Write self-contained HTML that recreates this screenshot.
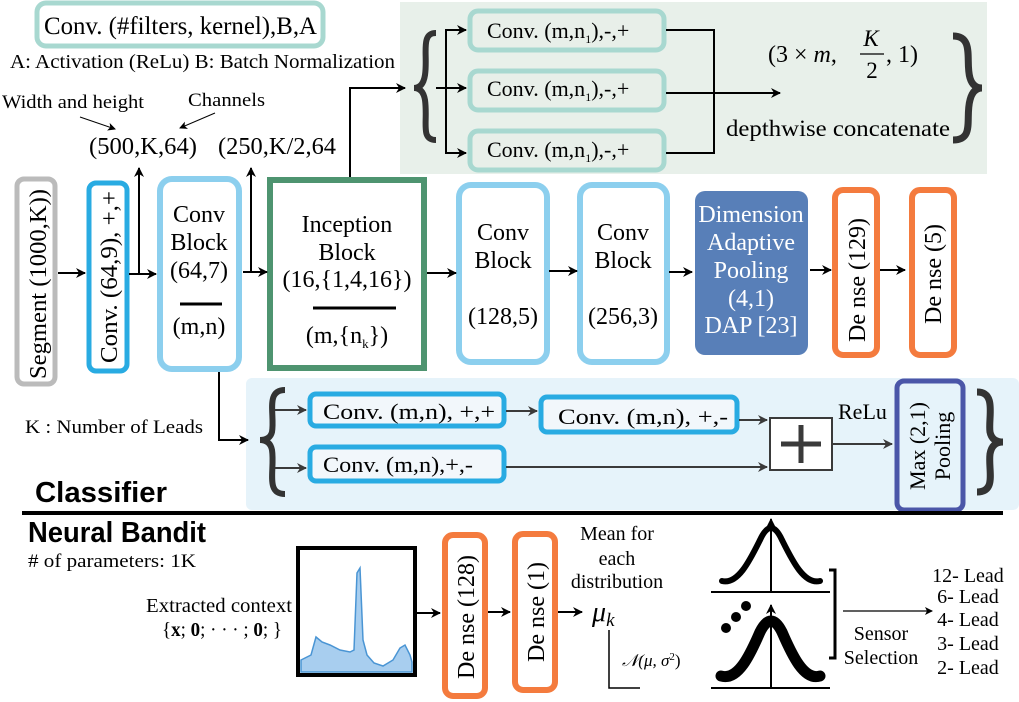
<!DOCTYPE html>
<html><head><meta charset="utf-8"><style>
body{margin:0;background:#fff;}
svg{display:block;font-family:"Liberation Serif",serif;}
</style></head><body>
<svg width="1019" height="702" viewBox="0 0 1019 702" xmlns="http://www.w3.org/2000/svg">
<defs>
<marker id="ah" markerWidth="10" markerHeight="10" refX="9" refY="5" orient="auto" markerUnits="userSpaceOnUse"><path d="M0,0 L10,5 L0,10 L3,5 z" fill="#000"/></marker>
<marker id="as" markerWidth="8" markerHeight="8" refX="7" refY="4" orient="auto" markerUnits="userSpaceOnUse"><path d="M0,0 L8,4 L0,8 L2,4 z" fill="#000"/></marker>
<marker id="ag" markerWidth="10" markerHeight="10" refX="9" refY="5" orient="auto" markerUnits="userSpaceOnUse"><path d="M0,0 L10,5 L0,10 L3,5 z" fill="#3a3a3a"/></marker>
</defs>

<!-- legend -->
<rect x="37" y="3" width="286" height="43" rx="9" fill="#fff" stroke="#a8d8d0" stroke-width="5"/>
<text x="44" y="34" font-size="25" textLength="273" lengthAdjust="spacingAndGlyphs">Conv. (#filters, kernel),B,A</text>
<text x="10" y="68" font-size="20" textLength="385" lengthAdjust="spacingAndGlyphs">A: Activation (ReLu)  B: Batch Normalization</text>
<text x="2" y="108" font-size="19" textLength="142" lengthAdjust="spacingAndGlyphs">Width and height</text>
<text x="188" y="106" font-size="19" textLength="77" lengthAdjust="spacingAndGlyphs">Channels</text>
<line x1="80" y1="117" x2="115" y2="129" stroke="#000" marker-end="url(#as)"/>
<line x1="215" y1="113" x2="180" y2="128" stroke="#000" marker-end="url(#as)"/>
<text x="89" y="154" font-size="24" textLength="108" lengthAdjust="spacingAndGlyphs">(500,K,64)</text>
<text x="218" y="154" font-size="24" textLength="118" lengthAdjust="spacingAndGlyphs">(250,K/2,64</text>

<!-- top inception panel -->
<rect x="400" y="2" width="587" height="172" fill="#e8f0ea"/>
<g fill="#e8efe9" stroke="#a8d8d0" stroke-width="5">
<rect x="470" y="11" width="194" height="39" rx="8"/>
<rect x="470" y="71" width="194" height="39" rx="8"/>
<rect x="470" y="131" width="194" height="39" rx="8"/>
</g>
<g font-size="22">
<text x="487" y="38">Conv. (m,n<tspan font-size="12" dy="5">1</tspan><tspan dy="-5">),-,+</tspan></text>
<text x="487" y="96">Conv. (m,n<tspan font-size="12" dy="5">1</tspan><tspan dy="-5">),-,+</tspan></text>
<text x="487" y="157">Conv. (m,n<tspan font-size="12" dy="5">1</tspan><tspan dy="-5">),-,+</tspan></text>
</g>
<path d="M436,33 C420,33 428,55 425,75 Q423,88 414,88 Q423,88 425,100 C428,122 420,140 436,140" fill="none" stroke="#333" stroke-width="6"/>
<line x1="350" y1="177" x2="350" y2="88" stroke="#000" stroke-width="2"/>
<line x1="349" y1="88" x2="405" y2="88" stroke="#000" stroke-width="2" marker-end="url(#ah)"/>
<polyline points="466,30 446,30 446,153 466,153" fill="none" stroke="#000" stroke-width="2"/>
<line x1="446" y1="30" x2="466" y2="30" stroke="#000" stroke-width="2" marker-end="url(#ah)"/>
<line x1="436" y1="88" x2="466" y2="88" stroke="#000" stroke-width="2" marker-end="url(#ah)"/>
<line x1="446" y1="153" x2="466" y2="153" stroke="#000" stroke-width="2" marker-end="url(#ah)"/>
<polyline points="666,30 714,30 714,153 666,153" fill="none" stroke="#000" stroke-width="2"/>
<line x1="666" y1="93" x2="780" y2="93" stroke="#000" stroke-width="2" marker-end="url(#ah)"/>
<text x="768" y="62" font-size="24">(3 × <tspan font-style="italic">m</tspan>,</text>
<text x="871" y="46" font-size="23" font-style="italic" text-anchor="middle">K</text>
<line x1="860" y1="54" x2="884" y2="54" stroke="#000" stroke-width="1.2"/>
<text x="872" y="78" font-size="23" text-anchor="middle">2</text>
<text x="886" y="62" font-size="24">, 1)</text>
<text x="726" y="136" font-size="23" textLength="224" lengthAdjust="spacingAndGlyphs">depthwise concatenate</text>
<path d="M953,36 C975,36 965,62 970,78 Q973,88 982,88 Q973,88 970,100 C965,118 975,140 953,140" fill="none" stroke="#333" stroke-width="7"/>

<!-- main row -->
<rect x="17" y="179" width="38" height="205" rx="7" fill="#fff" stroke="#bbb" stroke-width="5"/>
<text transform="translate(46,284) rotate(-90)" font-size="24" text-anchor="middle" textLength="190" lengthAdjust="spacingAndGlyphs">Segment (1000,K))</text>
<rect x="89" y="183" width="38" height="188" rx="7" fill="#fff" stroke="#29abe2" stroke-width="5"/>
<text transform="translate(117,277) rotate(-90)" font-size="24" text-anchor="middle" textLength="172" lengthAdjust="spacingAndGlyphs">Conv. (64,9), +,+</text>
<rect x="160" y="179" width="79" height="190" rx="12" fill="#fff" stroke="#8ccfee" stroke-width="6"/>
<g font-size="24" text-anchor="middle">
<text x="199" y="222">Conv</text><text x="199" y="250">Block</text><text x="199" y="278">(64,7)</text>
<line x1="180" y1="304" x2="222" y2="304" stroke="#000" stroke-width="3"/>
<text x="199" y="334">(m,n)</text>
</g>
<rect x="270" y="180" width="154" height="188" fill="#fff" stroke="#4e9470" stroke-width="6"/>
<g font-size="24" text-anchor="middle">
<text x="347" y="232">Inception</text><text x="347" y="260">Block</text><text x="347" y="287">(16,{1,4,16})</text>
<line x1="313" y1="308" x2="396" y2="308" stroke="#000" stroke-width="3"/>
<text x="347" y="343">(m,{n<tspan font-size="13" dy="5">k</tspan><tspan dy="-5">})</tspan></text>
</g>
<rect x="459" y="185" width="88" height="177" rx="12" fill="#fff" stroke="#8ccfee" stroke-width="6"/>
<g font-size="24" text-anchor="middle"><text x="503" y="240">Conv</text><text x="503" y="268">Block</text><text x="503" y="324">(128,5)</text></g>
<rect x="580" y="185" width="87" height="177" rx="12" fill="#fff" stroke="#8ccfee" stroke-width="6"/>
<g font-size="24" text-anchor="middle"><text x="623" y="240">Conv</text><text x="623" y="268">Block</text><text x="623" y="324">(256,3)</text></g>
<rect x="695" y="191" width="113" height="164" rx="10" fill="#587fb8"/>
<g font-size="24" text-anchor="middle" fill="#fff"><text x="751" y="222">Dimension</text><text x="751" y="250">Adaptive</text><text x="751" y="278">Pooling</text><text x="751" y="306">(4,1)</text><text x="751" y="333">DAP [23]</text></g>
<rect x="835" y="190" width="42" height="165" rx="8" fill="#fff" stroke="#f47b3e" stroke-width="6"/>
<text transform="translate(865,280) rotate(-90)" font-size="24" text-anchor="middle">De nse (129)</text>
<rect x="912" y="190" width="42" height="165" rx="8" fill="#fff" stroke="#f47b3e" stroke-width="6"/>
<text transform="translate(941,274) rotate(-90)" font-size="24" text-anchor="middle">De nse (5)</text>
<g stroke="#000" stroke-width="2">
<line x1="58" y1="273" x2="85" y2="273" marker-end="url(#ah)"/>
<line x1="129" y1="274" x2="156" y2="274" marker-end="url(#ah)"/>
<line x1="139" y1="274" x2="139" y2="168" marker-end="url(#ah)"/>
<line x1="243" y1="272" x2="267" y2="272" marker-end="url(#ah)"/>
<line x1="251" y1="272" x2="251" y2="168" marker-end="url(#ah)"/>
<line x1="427" y1="273" x2="456" y2="273" marker-end="url(#ah)"/>
<line x1="549" y1="271" x2="577" y2="271" marker-end="url(#ah)"/>
<line x1="669" y1="272" x2="692" y2="272" marker-end="url(#ah)"/>
<line x1="810" y1="270" x2="831" y2="270" marker-end="url(#ah)"/>
<line x1="880" y1="270" x2="905" y2="270" marker-end="url(#ah)"/>
</g>

<!-- residual panel -->
<rect x="246" y="378" width="773" height="132" rx="6" fill="#e6f3fa"/>
<line x1="219" y1="372" x2="219" y2="440" stroke="#000" stroke-width="2"/>
<line x1="218" y1="440" x2="248" y2="440" stroke="#000" stroke-width="2" marker-end="url(#ah)"/>
<text x="25" y="433" font-size="19" textLength="178" lengthAdjust="spacingAndGlyphs">K : Number of Leads</text>
<path d="M285,390 C265,390 275,415 272,432 Q270,440 260,440 Q270,440 272,450 C275,470 265,494 285,494" fill="none" stroke="#333" stroke-width="6"/>
<g fill="#f2f7fb" stroke="#29abe2" stroke-width="5">
<rect x="310" y="394" width="194" height="32" rx="6"/>
<rect x="541" y="397" width="196" height="35" rx="6"/>
<rect x="310" y="447" width="194" height="34" rx="6"/>
</g>
<g font-size="22">
<text x="323" y="419" textLength="172" lengthAdjust="spacingAndGlyphs">Conv. (m,n), +,+</text>
<text x="558" y="424" textLength="170" lengthAdjust="spacingAndGlyphs">Conv. (m,n), +,-</text>
<text x="323" y="472" textLength="150" lengthAdjust="spacingAndGlyphs">Conv. (m,n),+,-</text>
</g>
<g stroke="#3a3a3a" stroke-width="2">
<line x1="275" y1="410" x2="306" y2="410" marker-end="url(#ag)"/>
<line x1="275" y1="468" x2="306" y2="468" marker-end="url(#ag)"/>
<line x1="506" y1="411" x2="537" y2="411" marker-end="url(#ag)"/>
<line x1="739" y1="420" x2="767" y2="420" marker-end="url(#ag)"/>
<line x1="506" y1="467" x2="767" y2="467" marker-end="url(#ag)"/>
<line x1="833" y1="444" x2="892" y2="444" marker-end="url(#ag)"/>
</g>
<rect x="770" y="418" width="62" height="52" fill="#fff" stroke="#3a3a3a" stroke-width="2"/>
<line x1="801" y1="425" x2="801" y2="463" stroke="#3a3a3a" stroke-width="5"/>
<line x1="781" y1="444" x2="821" y2="444" stroke="#3a3a3a" stroke-width="5"/>
<text x="838" y="419" font-size="22">ReLu</text>
<rect x="897" y="381" width="66" height="129" rx="7" fill="#e6f3fa" stroke="#4b56a8" stroke-width="5"/>
<text transform="translate(925,446) rotate(-90)" font-size="22" text-anchor="middle">Max  (2,1)</text>
<text transform="translate(950,446) rotate(-90)" font-size="22" text-anchor="middle">Pooling</text>
<path d="M977,392 C997,392 988,418 990,432 Q992,442 1003,442 Q992,442 990,454 C988,470 997,492 977,492" fill="none" stroke="#333" stroke-width="7"/>
<text x="35" y="502" font-size="29" font-weight="bold" font-family="Liberation Sans Narrow, Liberation Sans, sans-serif" textLength="132" lengthAdjust="spacingAndGlyphs">Classifier</text>
<line x1="22" y1="513" x2="1003" y2="513" stroke="#000" stroke-width="4"/>

<!-- bandit -->
<text x="28" y="542" font-size="29" font-weight="bold" font-family="Liberation Sans Narrow, Liberation Sans, sans-serif" textLength="178" lengthAdjust="spacingAndGlyphs">Neural Bandit</text>
<text x="28" y="567" font-size="19" textLength="168" lengthAdjust="spacingAndGlyphs">#&#160;of parameters: 1K</text>
<text x="146" y="612" font-size="20" textLength="146" lengthAdjust="spacingAndGlyphs">Extracted context</text>
<text x="162" y="636" font-size="20" textLength="120" lengthAdjust="spacingAndGlyphs">{<tspan font-weight="bold">x</tspan>; <tspan font-weight="bold">0</tspan>; · · · ; <tspan font-weight="bold">0</tspan>; }</text>
<rect x="298" y="548" width="117" height="127" fill="#fff" stroke="#000" stroke-width="4"/>
<path d="M301,660 L311,655 L316,637 L322,642 L330,645 L340,650 L350,652 L354,650 L357,573 L360,568 L363,640 L367,655 L374,663 L383,666 L393,660 L400,648 L405,645 L410,655 L412,662 L412,672 L301,672 Z" fill="#a8ceef" stroke="#4a95d4" stroke-width="1.5"/>
<g stroke="#000" stroke-width="2">
<line x1="417" y1="613" x2="440" y2="613" marker-end="url(#ah)"/>
<line x1="488" y1="612" x2="510" y2="612" marker-end="url(#ah)"/>
<line x1="558" y1="612" x2="582" y2="612" marker-end="url(#ah)"/>
</g>
<rect x="445" y="535" width="40" height="161" rx="8" fill="#fff" stroke="#f47b3e" stroke-width="6"/>
<text transform="translate(474,617) rotate(-90)" font-size="24" text-anchor="middle">De nse (128)</text>
<rect x="515" y="534" width="40" height="156" rx="8" fill="#fff" stroke="#f47b3e" stroke-width="6"/>
<text transform="translate(544,612) rotate(-90)" font-size="24" text-anchor="middle">De nse (1)</text>
<g font-size="20" text-anchor="middle"><text x="617" y="540">Mean for</text><text x="617" y="565">each</text><text x="617" y="588">distribution</text></g>
<text x="592" y="621" font-size="28" font-style="italic">μ<tspan font-size="19" dy="5">k</tspan></text>
<polyline points="609,630 609,688 640,688" fill="none" stroke="#000" stroke-width="1.5"/>
<text x="622" y="666" font-size="17" font-style="italic">𝒩(μ, σ<tspan font-size="11" dy="-6" font-style="normal">2</tspan><tspan dy="6" font-style="normal">)</tspan></text>

<!-- gaussians -->
<line x1="711" y1="592" x2="830" y2="592" stroke="#000" stroke-width="2"/>
<line x1="771" y1="592" x2="771" y2="519" stroke="#000" stroke-width="2" marker-end="url(#ah)"/>
<path d="M722,581 C738,585 750,560 760,540 Q771,516 782,540 C792,560 804,585 820,581" fill="none" stroke="#000" stroke-width="6" stroke-linecap="round"/>
<line x1="711" y1="688" x2="830" y2="688" stroke="#000" stroke-width="2"/>
<line x1="771" y1="688" x2="771" y2="605" stroke="#000" stroke-width="2" marker-end="url(#ah)"/>
<path d="M721,676 C738,681 750,655 760,632 Q771,610 782,632 C792,655 804,681 820,676" fill="none" stroke="#000" stroke-width="11" stroke-linecap="round"/>
<circle cx="726" cy="628" r="5"/><circle cx="736" cy="617" r="5"/><circle cx="746" cy="606" r="5"/>
<polyline points="829,570 835,570 835,658 829,658" fill="none" stroke="#000" stroke-width="3"/>
<line x1="843" y1="611" x2="932" y2="611" stroke="#000" stroke-width="1.3" marker-end="url(#as)"/>
<g font-size="20" text-anchor="middle"><text x="881" y="640">Sensor</text><text x="881" y="664">Selection</text></g>
<g font-size="20" text-anchor="middle"><text x="968" y="582">12- Lead</text><text x="968" y="603">6- Lead</text><text x="968" y="626">4- Lead</text><text x="968" y="650">3- Lead</text><text x="968" y="674">2- Lead</text></g>
</svg>
</body></html>
